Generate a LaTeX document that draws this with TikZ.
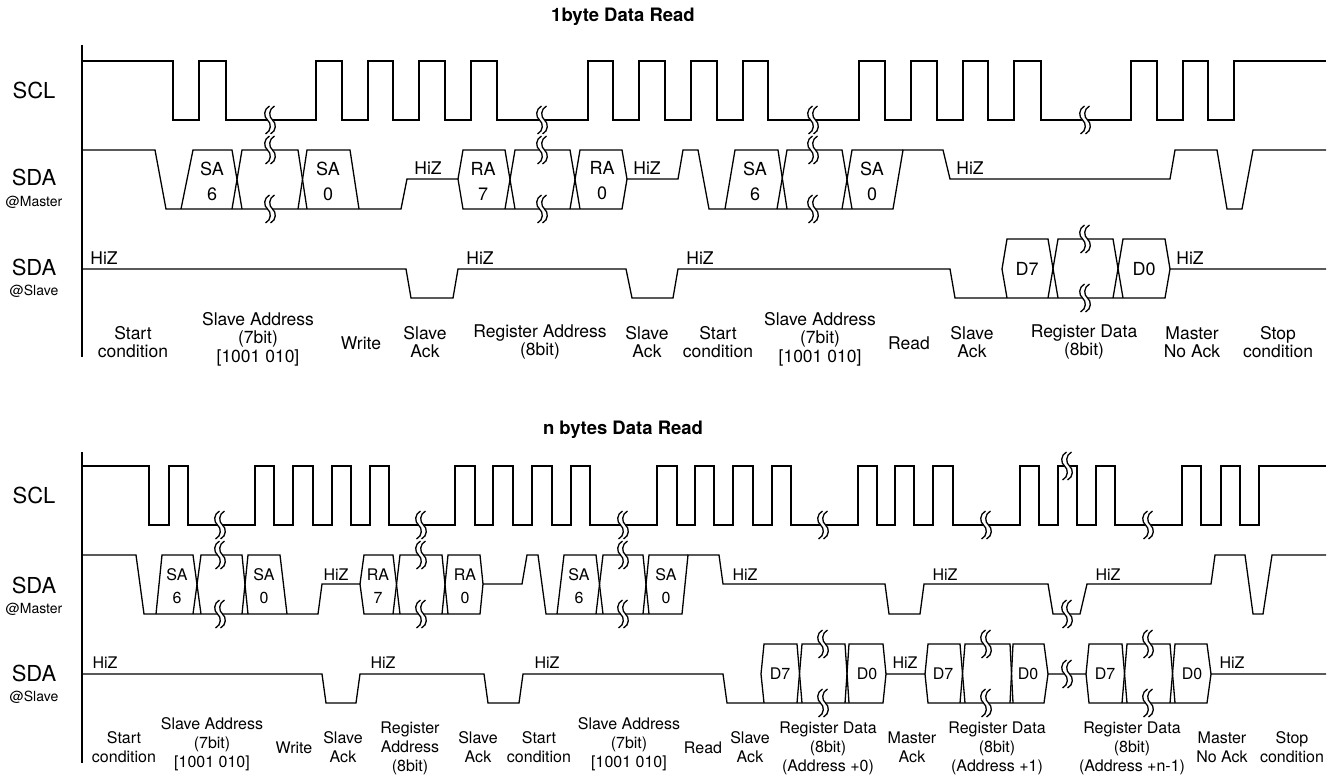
\documentclass[tikz,border=0pt]{standalone}
\usepackage{fontspec}
\setmainfont{TeX Gyre Heros}
\usepackage{tikz}

\begin{document}
\begin{tikzpicture}[x=1pt,y=-1pt,line width=1.3pt]
		\newcommand*{\clkH}{61}
		\newcommand*{\clkL}{120}
		\newcommand*{\mstH}{150}
		\newcommand*{\mstZ}{179}
		\newcommand*{\mstL}{209}
		\newcommand*{\slvH}{239}
		\newcommand*{\slvZ}{269}
		\newcommand*{\slvL}{298}
		\tikzset{
			sig/.style={inner sep=0pt, font=\fontsize{22}{22}\selectfont},
			sub/.style={inner sep=0pt, font=\fontsize{14}{14}\selectfont},
			lbl/.style={align=center, inner sep=0pt, font=\fontsize{17.5}{18.5}\selectfont},
			bit/.style={align=center, inner sep=0pt, font=\fontsize{18}{25}\selectfont},
			title/.style={inner sep=0pt, font=\bfseries\fontsize{18.5}{18.5}\selectfont},
			brk/.pic={
				\draw[white, line width=4.5pt] (2,-14) .. controls (-4,-11) and (-4,-3) .. (0,0) .. controls (4,3) and (4,11) .. (-2,14);
				\draw[xshift=-2.5pt] (2,-14) .. controls (-4,-11) and (-4,-3) .. (0,0) .. controls (4,3) and (4,11) .. (-2,14);
				\draw[xshift=2.5pt] (2,-14) .. controls (-4,-11) and (-4,-3) .. (0,0) .. controls (4,3) and (4,11) .. (-2,14);
			},
		}
		\useasboundingbox (0,0) rectangle (1337,779);

		% 1 byte read
		\node[title] (ttl1) at (623,17) {1byte Data Read};
		\draw (82,45) -- (82,357);
		\node[sig] (scl1) at (34,90) {SCL};
		\node[sig] (sdam1) at (34,177) {SDA};
		\node[sub] (mst1) at (34,202) {@Master};
		\node[sig] (sdas1) at (34,267) {SDA};
		\node[sub] (slv1) at (34,291) {@Slave};

		\draw (82,\clkH) -| (173,\clkL)
			\foreach \a/\b in {199/226,316/342,368/393,419/445,471/497,588/613,639/665,691/717,743/768,859/885,911/937,963/988,1014/1041,1131/1157,1183/1208} { -| (\a,\clkH) -| (\b,\clkL) }
			-| (1234,\clkH) -- (1326,\clkH);

		\draw (82,\mstH) -- (155,\mstH) -- (166,\mstL) -- (401,\mstL) -- (407,\mstZ) -- (458,\mstZ) -- (463,\mstL) -- (622,\mstL) -- (627,\mstZ) -- (678,\mstZ) -- (683,\mstH) -- (698,\mstH) -- (709,\mstL) -- (893,\mstL) -- (903,\mstH) -- (943,\mstH) -- (950,\mstZ) -- (1170,\mstZ) -- (1175,\mstH) -- (1217,\mstH) -- (1227,\mstL) -- (1242,\mstL) -- (1253,\mstH) -- (1326,\mstH);
		\foreach \a/\b/\c/\d in {181/193/232/242,232/242/298/307,298/307/350/359,505/515/570/580,725/735/778/787,777/787/842/852}
			\draw (\a,\mstL) -- (\b,\mstH) -- (\c,\mstH) -- (\d,\mstL);
		\draw (458,\mstZ) -- (463,\mstH) -- (505,\mstH) -- (515,\mstL);
		\draw (570,\mstL) -- (580,\mstH) -- (622,\mstH) -- (627,\mstZ);
		\draw (842,\mstL) -- (852,\mstH) -- (903,\mstH);

		\draw (82,\slvZ) -- (406,\slvZ) -- (411,\slvL) -- (453,\slvL) -- (458,\slvZ) -- (626,\slvZ) -- (632,\slvL) -- (673,\slvL) -- (678,\slvZ) -- (950,\slvZ) -- (955,\slvL) -- (1165,\slvL) -- (1170,\slvZ) -- (1326,\slvZ);
		\draw (1007,\slvL) -- (1002,\slvZ) -- (1007,\slvH) -- (1048,\slvH) -- (1058,\slvL);
		\draw (1048,\slvL) -- (1058,\slvH) -- (1113,\slvH) -- (1123,\slvL);
		\draw (1113,\slvL) -- (1123,\slvH) -- (1165,\slvH) -- (1170,\slvZ);

		\foreach \x in {270,542,813} {
			\pic at (\x,\clkL) {brk};
			\pic at (\x,\mstH) {brk};
			\pic at (\x,\mstL) {brk};
		}
		\pic at (1085,\clkL) {brk};
		\pic at (1085,\slvH) {brk};
		\pic at (1085,\slvL) {brk};

		\node[bit] (sa6a) at (212,181) {SA\\6};
		\node[bit] (sa0a) at (328,181) {SA\\0};
		\node[bit] (ra7a) at (483,181) {RA\\7};
		\node[bit] (ra0a) at (602,181) {RA\\0};
		\node[bit] (sa6b) at (755,181) {SA\\6};
		\node[bit] (sa0b) at (872,181) {SA\\0};
		\node[bit] (d7a) at (1027,269) {D7};
		\node[bit] (d0a) at (1144,269) {D0};

		\node[lbl] (hz1) at (428,168) {HiZ};
		\node[lbl] (hz2) at (647,168) {HiZ};
		\node[lbl] (hz3) at (970,168) {HiZ};
		\node[lbl] (hz4) at (104,258) {HiZ};
		\node[lbl] (hz5) at (480,258) {HiZ};
		\node[lbl] (hz6) at (700,258) {HiZ};
		\node[lbl] (hz7) at (1190,258) {HiZ};

		\node[lbl] (st1) at (133,342) {Start\\condition};
		\node[lbl] (sad1) at (258,339) {Slave Address\\(7bit)\\{[1001 010]}};
		\node[lbl] (wr1) at (361,343) {Write};
		\node[lbl] (ack1) at (425,342) {Slave\\Ack};
		\node[lbl] (rad1) at (540,342) {Register Address\\(8bit)};
		\node[lbl] (ack2) at (647,342) {Slave\\Ack};
		\node[lbl] (st2) at (718,342) {Start\\condition};
		\node[lbl] (sad2) at (820,339) {Slave Address\\(7bit)\\{[1001 010]}};
		\node[lbl] (rd1) at (909,343) {Read};
		\node[lbl] (ack3) at (972,342) {Slave\\Ack};
		\node[lbl] (dat1) at (1084,342) {Register Data\\(8bit)};
		\node[lbl] (nack1) at (1192,342) {Master\\No Ack};
		\node[lbl] (sp1) at (1278,342) {Stop\\condition};

		% n bytes read
		\node[title] (ttl2) at (623,430) {n bytes Data Read};
		\begin{scope}[yshift=-405pt,
			lbl/.append style={font=\fontsize{16}{19}\selectfont},
			bit/.append style={font=\fontsize{16}{23}\selectfont}]
		\draw (82,47) -- (82,358);
		\node[sig] (scl2) at (34,90) {SCL};
		\node[sig] (sdam2) at (34,180) {SDA};
		\node[sub] (mst2) at (34,204) {@Master};
		\node[sig] (sdas2) at (34,268) {SDA};
		\node[sub] (slv2) at (34,292) {@Slave};

		\draw (82,\clkH) -| (149,\clkL)
			\foreach \a/\b in {169/188,255/274,293/313,332/351,370/389,455/475,493/513,532/552,571/590,657/677,695/714,733/753,772/791,858/877,895/914,933/953,1020/1039,1058/1077,1096/1115,1182/1201,1221/1240} { -| (\a,\clkH) -| (\b,\clkL) }
			-| (1259,\clkH) -- (1326,\clkH);

		\draw (82,\mstH) -- (136,\mstH) -- (144,\mstL) -- (318,\mstL) -- (322,\mstZ) -- (360,\mstZ) -- (364,\mstL) -- (480,\mstL) -- (483,\mstZ) -- (522,\mstZ) -- (527,\mstH) -- (538,\mstH) -- (546,\mstL) -- (682,\mstL) -- (688,\mstH) -- (719,\mstH) -- (723,\mstZ) -- (885,\mstZ) -- (889,\mstL) -- (920,\mstL) -- (924,\mstZ) -- (1048,\mstZ) -- (1053,\mstL) -- (1080,\mstL) -- (1087,\mstZ) -- (1211,\mstZ) -- (1215,\mstH) -- (1245,\mstH) -- (1253,\mstL) -- (1263,\mstL) -- (1272,\mstH) -- (1326,\mstH);
		\foreach \a/\b/\c/\d in {156/162/193/201,193/201/242/248,242/248/280/287,393/400/442/448,557/564/596/603,596/603/643/649}
			\draw (\a,\mstL) -- (\b,\mstH) -- (\c,\mstH) -- (\d,\mstL);
		\draw (360,\mstZ) -- (364,\mstH) -- (393,\mstH) -- (400,\mstL);
		\draw (442,\mstL) -- (448,\mstH) -- (480,\mstH) -- (483,\mstZ);
		\draw (643,\mstL) -- (649,\mstH) -- (688,\mstH);

		\draw (82,\slvZ) -- (322,\slvZ) -- (326,\slvL) -- (356,\slvL) -- (360,\slvZ) -- (484,\slvZ) -- (488,\slvL) -- (519,\slvL) -- (523,\slvZ) -- (723,\slvZ) -- (727,\slvL) -- (883,\slvL) -- (886,\slvZ) -- (925,\slvZ) -- (928,\slvL) -- (1044,\slvL) -- (1048,\slvZ) -- (1086,\slvZ) -- (1089,\slvL) -- (1207,\slvL) -- (1211,\slvZ) -- (1326,\slvZ);
		\draw (764,\slvL) -- (761,\slvZ) -- (764,\slvH) -- (797,\slvH) -- (802,\slvL);
		\draw (925,\slvZ) -- (928,\slvH) -- (960,\slvH) -- (965,\slvL);
		\draw (1086,\slvZ) -- (1089,\slvH) -- (1122,\slvH) -- (1127,\slvL);
		\foreach \a/\b/\c/\d in {797/802/845/849,960/965/1010/1013,1122/1127/1170/1175}
			\draw (\a,\slvL) -- (\b,\slvH) -- (\c,\slvH) -- (\d,\slvL);
		\foreach \a/\b/\c/\d in {845/849/883/886,1010/1013/1044/1048,1170/1175/1207/1211}
			\draw (\a,\slvL) -- (\b,\slvH) -- (\c,\slvH) -- (\d,\slvZ);

		\foreach \x in {220,421,623} {
			\pic at (\x,\clkL) {brk};
			\pic at (\x,\mstH) {brk};
			\pic at (\x,\mstL) {brk};
		}
		\foreach \x in {823,986,1148} {
			\pic at (\x,\clkL) {brk};
			\pic at (\x,\slvH) {brk};
			\pic at (\x,\slvL) {brk};
		}
		\pic at (1067,\clkH) {brk};
		\pic at (1067,\mstL) {brk};
		\pic at (1067,\slvZ) {brk};

		\node[bit] (sa6c) at (177,181) {SA\\6};
		\node[bit] (sa0c) at (264,181) {SA\\0};
		\node[bit] (ra7b) at (378,181) {RA\\7};
		\node[bit] (ra0b) at (465,181) {RA\\0};
		\node[bit] (sa6d) at (579,181) {SA\\6};
		\node[bit] (sa0d) at (666,181) {SA\\0};
		\node[bit] (d7b) at (780,269) {D7};
		\node[bit] (d0b) at (867,269) {D0};
		\node[bit] (d7c) at (943,269) {D7};
		\node[bit] (d0c) at (1028,269) {D0};
		\node[bit] (d7d) at (1105,269) {D7};
		\node[bit] (d0d) at (1192,269) {D0};

		\node[lbl] (hz8) at (336,170) {HiZ};
		\node[lbl] (hz9) at (745,170) {HiZ};
		\node[lbl] (hz10) at (945,170) {HiZ};
		\node[lbl] (hz11) at (1108,170) {HiZ};
		\node[lbl] (hz12) at (105,258) {HiZ};
		\node[lbl] (hz13) at (383,258) {HiZ};
		\node[lbl] (hz14) at (547,258) {HiZ};
		\node[lbl] (hz15) at (905,258) {HiZ};
		\node[lbl] (hz16) at (1232,258) {HiZ};

		\node[lbl] (st3) at (124,342) {Start\\condition};
		\node[lbl] (sad3) at (212,339) {Slave Address\\(7bit)\\{[1001 010]}};
		\node[lbl] (wr2) at (294,343) {Write};
		\node[lbl] (ack4) at (343,342) {Slave\\Ack};
		\node[lbl] (rad2) at (410,343) {Register\\Address\\(8bit)};
		\node[lbl] (ack5) at (478,342) {Slave\\Ack};
		\node[lbl] (st4) at (539,342) {Start\\condition};
		\node[lbl] (sad4) at (629,339) {Slave Address\\(7bit)\\{[1001 010]}};
		\node[lbl] (rd2) at (703,343) {Read};
		\node[lbl] (ack6) at (750,342) {Slave\\Ack};
		\node[lbl] (dat2) at (828,343) {Register Data\\(8bit)\\(Address +0)};
		\node[lbl] (mack1) at (912,342) {Master\\Ack};
		\node[lbl] (dat3) at (997,343) {Register Data\\(8bit)\\(Address +1)};
		\node[lbl] (dat4) at (1132,343) {Register Data\\(8bit)\\(Address +n-1)};
		\node[lbl] (nack2) at (1222,342) {Master\\No Ack};
		\node[lbl] (sp2) at (1292,342) {Stop\\condition};
		\end{scope}
	\end{tikzpicture}
\end{document}
